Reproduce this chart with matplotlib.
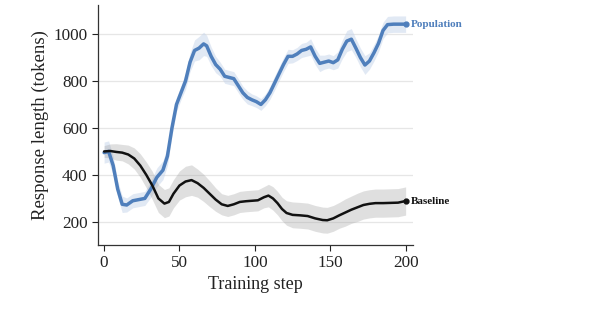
import numpy as np
import matplotlib
matplotlib.use("Agg")
import matplotlib.pyplot as plt

plt.rcParams.update({
    "font.family": ["Liberation Serif", "DejaVu Serif"],
    "font.size": 11,
})

# ── Data ─────────────────────────────────────────────────────────────────────
pop_steps = [0, 3, 6, 9, 12, 15, 19, 23, 27, 31, 35, 39, 42, 45, 48, 51, 54, 57,
             60, 63, 66, 68, 71, 74, 77, 80, 83, 86, 89, 92, 95, 98, 101, 104,
             107, 110, 113, 116, 119, 122, 125, 128, 131, 134, 137, 140, 143,
             146, 149, 152, 155, 158, 161, 164, 167, 170, 173, 176, 179, 182,
             185, 188, 192, 196, 200]
pop_len = [495, 500, 440, 340, 275, 272, 290, 295, 300, 340, 390, 420, 480, 600,
           700, 750, 800, 880, 930, 940, 958, 950, 905, 870, 850, 820, 815, 810,
           780, 750, 730, 720, 712, 700, 720, 750, 790, 830, 870, 905, 905, 915,
           930, 935, 945, 905, 875, 880, 885, 878, 890, 935, 970, 978, 940, 900,
           868, 885, 920, 960, 1015, 1040, 1042, 1042, 1042]
pop_err = [45, 45, 40, 35, 35, 30, 30, 30, 30, 35, 40, 40, 40, 35, 30, 30, 35,
           40, 45, 50, 50, 45, 40, 35, 30, 30, 30, 30, 30, 28, 28, 25, 25, 25,
           25, 28, 30, 30, 30, 30, 28, 28, 30, 30, 35, 35, 35, 30, 30, 30, 35,
           40, 45, 45, 40, 40, 40, 35, 35, 35, 35, 35, 35, 35, 35]

base_steps = [0, 4, 8, 12, 16, 20, 24, 28, 32, 36, 40, 43, 46, 50, 54, 58, 62,
              66, 70, 74, 78, 82, 86, 90, 94, 98, 102, 106, 109, 112, 115, 118,
              121, 125, 130, 135, 140, 145, 148, 152, 156, 160, 164, 168, 172,
              176, 180, 185, 190, 195, 200]
base_len = [500, 502, 498, 495, 487, 470, 440, 400, 355, 300, 278, 285, 320,
            355, 372, 378, 365, 345, 320, 295, 275, 268, 275, 285, 288, 290,
            292, 305, 312, 300, 280, 255, 238, 230, 228, 225, 215, 208, 207,
            215, 228, 240, 252, 262, 272, 277, 280, 280, 281, 282, 289]
base_err = [25, 30, 35, 35, 40, 45, 50, 55, 60, 60, 60, 60, 60, 62, 65, 65, 60,
            58, 55, 50, 45, 45, 45, 45, 45, 45, 45, 45, 48, 50, 50, 50, 52, 55,
            55, 55, 55, 55, 55, 55, 55, 58, 58, 60, 60, 60, 60, 60, 60, 60, 60]

BLUE = "#4f7fbc"
BLACK = "#111111"

fig = plt.figure(figsize=(6.13, 3.21), dpi=100)
ax = fig.add_axes([0.160, 0.237, 0.514, 0.747])

series = [
    (pop_steps, pop_len, pop_err, BLUE, 2.5, "#c5d4ea", 0.5, "Population"),
    (base_steps, base_len, base_err, BLACK, 1.8, "#a0a0a0", 0.33, "Baseline"),
]
for steps, vals, err, col, lw, band_col, a, name in series:
    s = np.array(steps)
    v = np.array(vals)
    e = np.array(err)
    ax.fill_between(s, v - e, v + e, color=band_col, alpha=a, lw=0, zorder=2)
    ax.plot(s, v, color=col, lw=lw, zorder=3, solid_capstyle="round")
    ax.plot(s[-1], v[-1], "o", color=col, ms=3.5, zorder=4)
    ax.annotate(name, xy=(s[-1], v[-1]), xytext=(3.5, 0), textcoords="offset points",
                va="center", ha="left", fontsize=8, fontweight="bold", color=col)

ax.set_xlim(-4, 205)
ax.set_ylim(102, 1123)
ax.set_xticks([0, 50, 100, 150, 200])
ax.set_yticks([200, 400, 600, 800, 1000])
ax.yaxis.grid(True, color="#e6e6e6", lw=0.9, zorder=0)
ax.set_axisbelow(True)
for sp in ("top", "right"):
    ax.spines[sp].set_visible(False)
for sp in ("left", "bottom"):
    ax.spines[sp].set_linewidth(0.9)
    ax.spines[sp].set_color("#333333")
ax.tick_params(direction="out", length=4, width=0.8, labelsize=12.3, colors="#222222")
ax.set_xlabel("Training step", fontsize=13, color="#222222", labelpad=3)
ax.set_ylabel("Response length (tokens)", fontsize=13.5, color="#222222", labelpad=3)

fig.savefig("out.png", dpi=100)
